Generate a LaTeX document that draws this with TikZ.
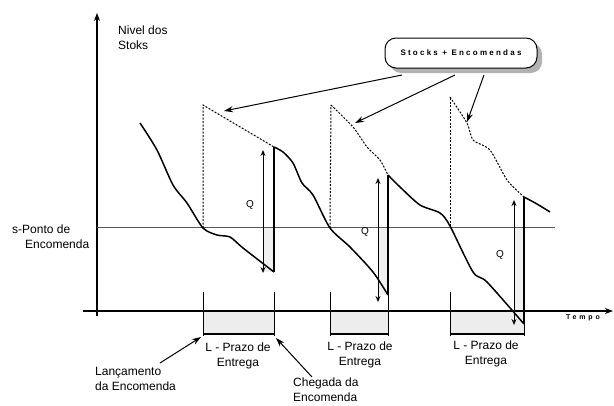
\documentclass[tikz,border=0pt]{standalone}
\usepackage{fontspec}
\setmainfont{Liberation Sans}
\newfontfamily\spacedA[LetterSpace=28]{Liberation Sans}
\newfontfamily\spacedB[LetterSpace=40]{Liberation Sans}
\usetikzlibrary{arrows.meta,shadows}
\begin{document}
\begin{tikzpicture}[x=1pt,y=-1pt,
  axisline/.style={line width=1.1pt,-{Stealth[length=8pt,width=6pt]}},
  stockline/.style={line width=1.5pt, line join=round},
  vbar/.style={line width=2.2pt},
  orderline/.style={dash pattern=on 2pt off 1.5pt, line width=1pt},
  qarrow/.style={line width=1pt,{Stealth[length=6pt,width=5pt]}-{Stealth[length=6pt,width=5pt]}},
  leadtick/.style={line width=1pt},
  leadbase/.style={line width=1.8pt},
  callarrow/.style={line width=1pt,-{Stealth[length=9pt,width=6pt]}},
  lbl/.style={font=\fontsize{12}{15}\selectfont, align=left, inner sep=0pt},
  lblc/.style={font=\fontsize{12}{15}\selectfont, align=center, inner sep=0pt},
  qlbl/.style={font=\fontsize{10}{12}\selectfont, inner sep=0pt},
]
\useasboundingbox (0,0) rectangle (614,405);

% shaded regions
\fill[gray!14] (203,311) rectangle (274,334);
\fill[gray!14] (330,311) rectangle (388,334);
\fill[gray!14] (450,311) rectangle (524,334);
\fill[gray!12] (263,227) rectangle (274,272);
\fill[gray!12] (378,227) rectangle (388,295);
\fill[gray!12] (514,227) rectangle (524,311);

% axes
\coordinate (yo) at (97,316);
\coordinate (ytop) at (97,13);
\coordinate (xo) at (83,311);
\coordinate (xend) at (613,311);
\draw[axisline] (yo) -- (ytop);
\draw[axisline] (xo) -- (xend);

% reorder level
\coordinate (sl) at (97,227);
\coordinate (sr) at (555,227);
\draw[line width=0.6pt, gray!70!black] (sl) -- (sr);

% labels on axes
\node[lbl, anchor=north west] (ylab) at (118,26) {Nivel dos\\Stoks};
\node[lbl, anchor=north west] (spoint) at (12,225) {s-Ponto de\\\hspace*{13pt}Encomenda};
\node[font=\spacedB\bfseries\fontsize{7}{8}\selectfont, inner sep=0pt] (tempo) at (583,318) {Tempo};

% cycle 1
\draw[stockline] plot[smooth, tension=0.45] coordinates {(140,123) (157,150) (173,185) (187,203) (203,228) (217,235) (230,237) (243,248) (274,272)};
\draw[orderline] (203,228) -- (203,105) -- (274,147);
\draw[vbar] (274,272) -- (274,147);
\draw[qarrow] (263,273) -- (263,150);
\node[qlbl] (q1) at (250,205) {Q};

% cycle 2
\draw[stockline] plot[smooth, tension=0.45] coordinates {(274,147) (283,152) (293,163) (302,183) (313,195) (330,228) (350,247) (373,272) (388,295)};
\draw[orderline] (330,228) -- (331,105);
\draw[orderline] plot[smooth, tension=0.4] coordinates {(331,105) (353,127) (367,147) (380,160) (388,175)};
\draw[vbar] (388,295) -- (388,175);
\draw[qarrow] (378,302) -- (378,178);
\node[qlbl] (q2) at (365,232) {Q};

% cycle 3
\draw[stockline] plot[smooth, tension=0.45] coordinates {(388,175) (400,187) (420,205) (440,213) (450,226) (473,272) (487,282) (524,324)};
\draw[orderline] (450,226) -- (450,97);
\draw[orderline] plot[smooth, tension=0.4] coordinates {(450,97) (467,123) (473,140) (490,150) (507,180) (524,197)};
\draw[vbar] (524,324) -- (524,197);
\draw[qarrow] (514,325) -- (514,200);
\node[qlbl] (q3) at (500,255) {Q};
\draw[stockline] plot[smooth, tension=0.45] coordinates {(524,197) (537,204) (550,212)};

% lead time brackets
\foreach \a/\b in {203/274, 330/388, 450/524}{
  \draw[leadtick] (\a,292) -- (\a,336);
  \draw[leadtick] (\b,292) -- (\b,336);
  \draw[leadbase] (\a,334) -- (\b,334);
}
\node[lblc, anchor=north] (lt1) at (238,343) {L - Prazo de\\Entrega};
\node[lblc, anchor=north] (lt2) at (360,342) {L - Prazo de\\Entrega};
\node[lblc, anchor=north] (lt3) at (486,341) {L - Prazo de\\Entrega};

% bottom annotations
\node[lbl, anchor=north west] (lanc) at (95,367) {Lançamento\\da Encomenda};
\node[lbl, anchor=north west] (cheg) at (293,378) {Chegada da\\Encomenda};
\coordinate (lancs) at (160,363);
\coordinate (lance) at (201,337);
\coordinate (chegs) at (312,377);
\coordinate (chege) at (276,338);
\draw[callarrow] (lancs) -- (lance);
\draw[callarrow] (chegs) -- (chege);

% callout
\node[draw, line width=1pt, rounded corners=11pt, fill=white, minimum width=152pt, minimum height=30pt,
      drop shadow={shadow xshift=5pt, shadow yshift=-5pt, fill=gray!60, opacity=1},
      font=\spacedA\bfseries\fontsize{8}{9}\selectfont] (callout) at (461,53) {Stocks + Encomendas};
\coordinate (c1) at (402,75);
\coordinate (c2) at (455,75);
\coordinate (c3) at (484,75);
\coordinate (t1) at (224,111);
\coordinate (t2) at (355,123);
\coordinate (t3) at (467,122);
\draw[callarrow] (c1) -- (t1);
\draw[callarrow] (c2) -- (t2);
\draw[callarrow] (c3) -- (t3);
\end{tikzpicture}
\end{document}
